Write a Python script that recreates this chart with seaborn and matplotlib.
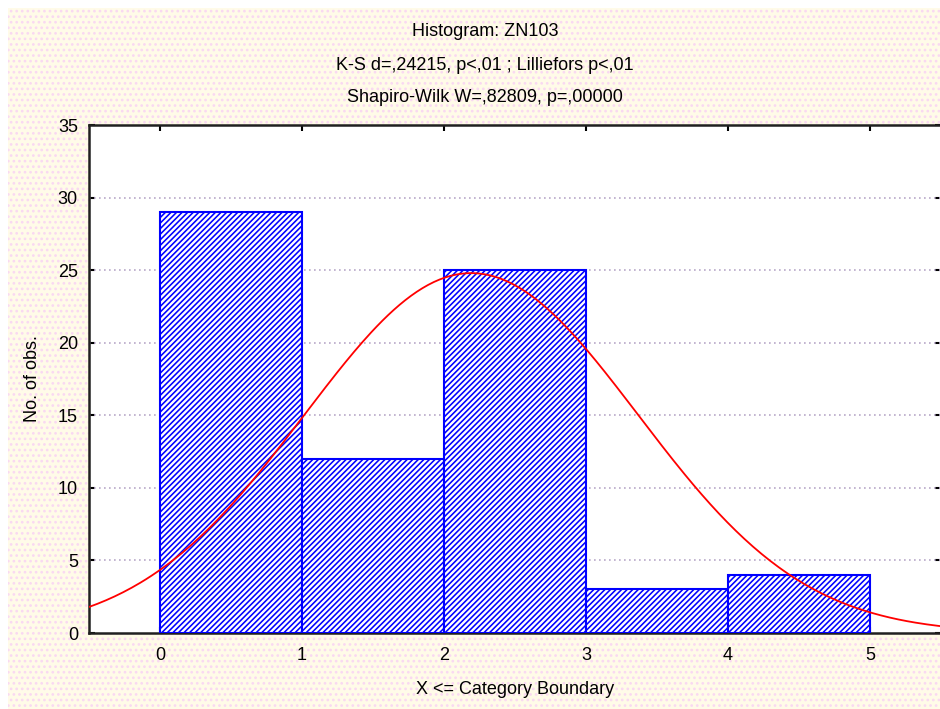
import numpy as np
import pandas as pd
import matplotlib
matplotlib.use("Agg")
import matplotlib.pyplot as plt
from matplotlib.patches import Rectangle
import seaborn as sns

# category values (X <= boundary) and their counts
values = [1, 2, 3, 4, 5]
counts = [29, 12, 25, 3, 4]
bin_edges = [0, 1, 2, 3, 4, 5]
title_lines = ["Histogram: ZN103",
               "K-S d=,24215, p<,01 ; Lilliefors p<,01",
               "Shapiro-Wilk W=,82809, p=,00000"]

sns.set_theme(style="white")
plt.rcParams["font.family"] = ["Liberation Sans", "DejaVu Sans"]
plt.rcParams["hatch.linewidth"] = 1.15
plt.rcParams["text.color"] = "black"
plt.rcParams["axes.labelcolor"] = "black"

fig = plt.figure(figsize=(9.4, 7.09), dpi=100)
fig.patch.set_facecolor("white")
# dotted beige backdrop
bg = Rectangle((8 / 940, 0), 1, 1 - 8 / 709, transform=fig.transFigure,
               facecolor="#fffbe8", edgecolor="#f9d8f2", hatch="...", lw=0, zorder=-10)
fig.patches.append(bg)

ax = fig.add_axes([89 / 940, 1 - 633 / 709, (941 - 89) / 940, (633 - 125) / 709])
ax.set_facecolor("white")

df = pd.DataFrame({"mid": [v - 0.5 for v in values], "n": counts})
sns.histplot(data=df, x="mid", weights="n", bins=bin_edges, ax=ax,
             fill=True, facecolor="white", edgecolor="#0000ff", linewidth=1.5,
             alpha=1, zorder=3)
for p in ax.patches:
    p.set_facecolor("white")
    p.set_edgecolor("#0000ff")
    p.set_hatch("//////")

# fitted normal curve from the raw category values
raw = np.repeat(values, counts)
mu, sd = raw.mean(), raw.std(ddof=1)
xs = np.linspace(-0.5, 5.5, 300)
ys = len(raw) * 1.0 * np.exp(-0.5 * ((xs - mu) / sd) ** 2) / (sd * np.sqrt(2 * np.pi))
sns.lineplot(x=xs, y=ys, color="#ff0000", linewidth=1.3, ax=ax, zorder=4)

ax.set_xlim(-0.5, 5.5)
ax.set_ylim(0, 35)
ax.set_xticks(range(0, 6))
ax.set_yticks(range(0, 36, 5))
for y in range(5, 35, 5):
    ax.axhline(y, color="#b8a8c8", linestyle=(0, (1, 2)), linewidth=1.2, zorder=1)

ax.tick_params(axis="both", direction="in", length=4, width=1.5, labelsize=13,
               top=True, right=True, bottom=True, left=True, pad=8, colors="black")
ax.tick_params(axis="x", pad=10)
for s in ax.spines.values():
    s.set_color("#202020")
    s.set_linewidth(1.8)

ax.set_xlabel("X <= Category Boundary", fontsize=13, labelpad=12)
ax.set_ylabel("No. of obs.", fontsize=13, labelpad=12)

for i, line in enumerate(title_lines):
    fig.text(485 / 940, 1 - (32 + 33 * i) / 709, line, ha="center", va="center",
             fontsize=13, color="black")

fig.savefig("out.png", dpi=100)
